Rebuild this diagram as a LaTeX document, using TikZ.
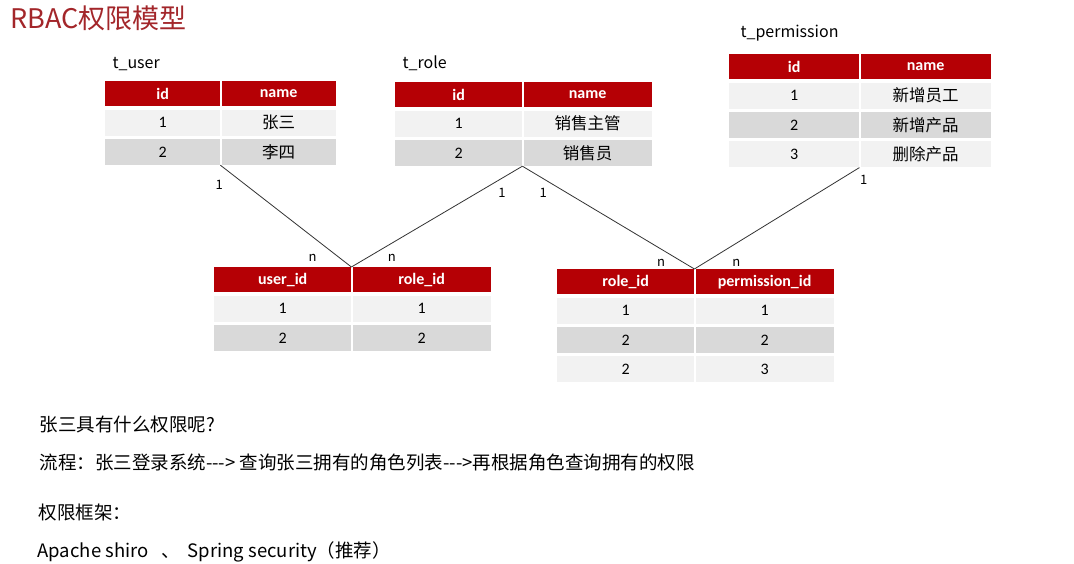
\documentclass[tikz,border=0pt]{standalone}
\usepackage{fontspec}
\setmainfont{Carlito}
\newfontfamily\cjk{Noto Sans CJK SC}
\usepackage{tikz}
\usetikzlibrary{positioning}

\definecolor{hdrred}{HTML}{B50005}
\definecolor{rowlight}{HTML}{F2F2F2}
\definecolor{rowdark}{HTML}{D9D9D9}
\definecolor{titlered}{HTML}{A3262A}
\definecolor{linkgray}{HTML}{333333}

\tikzset{
  cell/.style={inner sep=0pt, minimum height=26pt, font=\fontsize{16}{18}\selectfont},
  hdr/.style={cell, fill=hdrred, text=white, minimum height=25pt,
              font=\fontsize{16}{18}\selectfont\bfseries},
  rowa/.style={cell, fill=rowlight},
  rowb/.style={cell, fill=rowdark},
  cjkcell/.style={font=\cjk\fontsize{16.5}{18}\selectfont},
  tname/.style={anchor=base west, font=\cjk\fontsize{16}{18}\selectfont},
  link/.style={draw=linkgray, line width=0.8pt},
  card/.style={font=\cjk\fontsize{13}{14}\selectfont, inner sep=0pt},
  note/.style={anchor=base west, font=\cjk\fontsize{18.5}{20}\selectfont},
}

\begin{document}
\begin{tikzpicture}[x=1pt, y=-1pt]
  \path[use as bounding box, fill=white] (0,0) rectangle (1074,564);

  % title
  \node[anchor=base west, text=titlered, font=\cjk\fontsize{27}{30}\selectfont,
        inner sep=0pt] (title) at (10,29) {RBAC权限模型};

  % t_user
  \node[tname] (user-lbl) at (109,69) {t\_user};
  \node[hdr, minimum width=115pt, anchor=north west] (u-01) at (105,81) {id};
  \node[hdr, minimum width=114pt, right=1pt of u-01] (u-02) {name};
  \foreach \i/\a/\b/\s in {1/1/张三/rowa, 2/2/李四/rowb} {
    \pgfmathtruncatemacro\j{\i-1}
    \node[\s, minimum width=115pt, below=3pt of u-\j1] (u-\i1) {\a};
    \node[\s, cjkcell, minimum width=114pt, right=1pt of u-\i1] (u-\i2) {\b};
  }

  % t_role
  \node[tname] (role-lbl) at (399,69) {t\_role};
  \node[hdr, minimum width=127pt, anchor=north west] (r-01) at (395,82) {id};
  \node[hdr, minimum width=128pt, right=1pt of r-01] (r-02) {name};
  \foreach \i/\a/\b/\s in {1/1/销售主管/rowa, 2/2/销售员/rowb} {
    \pgfmathtruncatemacro\j{\i-1}
    \node[\s, minimum width=127pt, below=3pt of r-\j1] (r-\i1) {\a};
    \node[\s, cjkcell, minimum width=128pt, right=1pt of r-\i1] (r-\i2) {\b};
  }

  % t_permission
  \node[tname] (perm-lbl) at (737,38) {t\_permission};
  \node[hdr, minimum width=130pt, anchor=north west] (p-01) at (729,54) {id};
  \node[hdr, minimum width=130pt, right=1pt of p-01] (p-02) {name};
  \foreach \i/\a/\b/\s in {1/1/新增员工/rowa, 2/2/新增产品/rowb, 3/3/删除产品/rowa} {
    \pgfmathtruncatemacro\j{\i-1}
    \node[\s, minimum width=130pt, below=3pt of p-\j1] (p-\i1) {\a};
    \node[\s, cjkcell, minimum width=130pt, right=1pt of p-\i1] (p-\i2) {\b};
  }

  % user_role
  \node[hdr, minimum width=137pt, anchor=north west] (ur-01) at (214,267) {user\_id};
  \node[hdr, minimum width=138pt, right=1pt of ur-01] (ur-02) {role\_id};
  \foreach \i/\a/\b/\s in {1/1/1/rowa, 2/2/2/rowb} {
    \pgfmathtruncatemacro\j{\i-1}
    \node[\s, minimum width=137pt, below=3pt of ur-\j1] (ur-\i1) {\a};
    \node[\s, minimum width=138pt, right=1pt of ur-\i1] (ur-\i2) {\b};
  }

  % role_permission
  \node[hdr, minimum width=137pt, anchor=north west] (rp-01) at (557,269) {role\_id};
  \node[hdr, minimum width=138pt, right=1pt of rp-01] (rp-02) {permission\_id};
  \foreach \i/\a/\b/\s in {1/1/1/rowa, 2/2/2/rowb, 3/2/3/rowa} {
    \pgfmathtruncatemacro\j{\i-1}
    \node[\s, minimum width=137pt, below=3pt of rp-\j1] (rp-\i1) {\a};
    \node[\s, minimum width=138pt, right=1pt of rp-\i1] (rp-\i2) {\b};
  }

  % relations
  \draw[link] (u-21.south east) -- node[card, pos=0.19, xshift=-26pt] {1}
                                   node[card, pos=0.91, xshift=-27pt] {n} (ur-01.north east);
  \draw[link] (r-21.south east) -- node[card, pos=0.26, xshift=24pt] {1}
                                   node[card, pos=0.91, xshift=25pt] {n} (ur-01.north east);
  \draw[link] (r-21.south east) -- node[card, pos=0.26, xshift=-24pt] {1}
                                   node[card, pos=0.94, xshift=-23pt] {n} (rp-01.north east);
  \draw[link] (p-31.south east) -- node[card, pos=0.12, xshift=24pt] {1}
                                   node[card, pos=0.94, xshift=32pt] {n} (rp-01.north east);

  % notes
  \node[note] (q) at (36,431) {张三具有什么权限呢?};
  \node[note] (flow) at (36,469) {流程：张三登录系统-{}-{}-{}> 查询张三拥有的角色列表-{}-{}-{}>再根据角色查询拥有的权限};
  \node[note] (fw) at (35,519) {权限框架：};
  \node[note] (fwlist) at (34,557) {Apache shiro\ \ \ 、\ \ Spring security（推荐）};
\end{tikzpicture}
\end{document}
